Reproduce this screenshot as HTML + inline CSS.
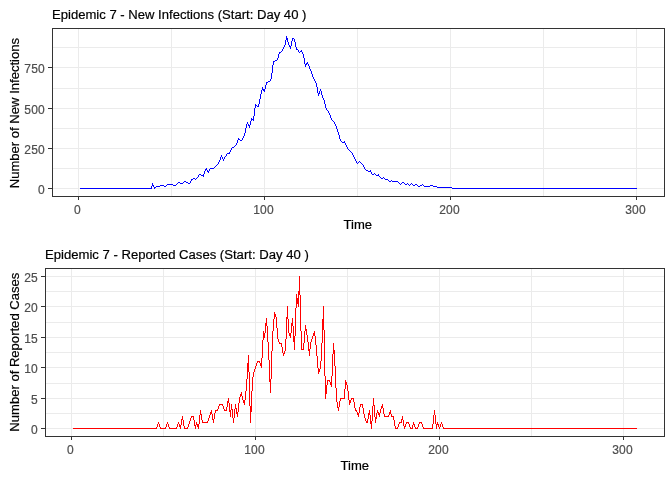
<!DOCTYPE html>
<html><head><meta charset="utf-8"><title>Epidemic 7</title>
<style>
html,body{margin:0;padding:0;background:#fff;}
svg{display:block;}
text{font-family:"Liberation Sans",Arial,sans-serif;}
.t{font-size:13.07px;fill:#000;stroke:#000;stroke-width:0.2px;}
.k{font-size:12px;letter-spacing:0.3px;fill:#4d4d4d;stroke:#4d4d4d;stroke-width:0.2px;}
.g line{stroke:#ebebeb;stroke-width:1;}
.b{fill:none;stroke:#333;stroke-width:1;}
.tk line{stroke:#333;stroke-width:1;}
</style></head><body>
<svg width="672" height="480" viewBox="0 0 672 480">
<rect width="672" height="480" fill="#fff"/>

<g class="g" shape-rendering="crispEdges">
<line x1="52.5" x2="664.5" y1="168.5" y2="168.5"/>
<line x1="52.5" x2="664.5" y1="128.5" y2="128.5"/>
<line x1="52.5" x2="664.5" y1="88.5" y2="88.5"/>
<line x1="52.5" x2="664.5" y1="47.5" y2="47.5"/>
<line x1="52.5" x2="664.5" y1="188.5" y2="188.5"/>
<line x1="52.5" x2="664.5" y1="148.5" y2="148.5"/>
<line x1="52.5" x2="664.5" y1="108.5" y2="108.5"/>
<line x1="52.5" x2="664.5" y1="67.5" y2="67.5"/>
<line x1="171.5" x2="171.5" y1="28.5" y2="196.5"/>
<line x1="357.5" x2="357.5" y1="28.5" y2="196.5"/>
<line x1="543.5" x2="543.5" y1="28.5" y2="196.5"/>
<line x1="78.5" x2="78.5" y1="28.5" y2="196.5"/>
<line x1="264.5" x2="264.5" y1="28.5" y2="196.5"/>
<line x1="450.5" x2="450.5" y1="28.5" y2="196.5"/>
<line x1="636.5" x2="636.5" y1="28.5" y2="196.5"/>
</g>
<path fill="#0000ff" shape-rendering="crispEdges" d="M80 188h72v1h-72zM452 188h185v1h-185zM437 187h15v1h-15zM156 186h4v1h-4zM424 186h6v1h-6zM433 186h4v1h-4zM201 175h3v1h-3zM376 175h3v1h-3zM392 181h6v1h-6zM180 183h3v1h-3zM167 184h6v1h-6zM385 179h3v1h-3zM160 185h4v1h-4zM173 185h3v1h-3zM430 185h3v1h-3zM368 171h3v1h-3zM262 89h3v1h-3zM227 153h3v1h-3zM210 168h4v1h-4zM251 119h3v1h-3zM342 142h3v1h-3zM151 186h1v2h-1zM152 183h1v3h-1zM153 185h1v2h-1zM154 187h1v2h-1zM155 187h1v1h-1zM164 186h1v1h-1zM165 186h1v1h-1zM166 185h1v1h-1zM176 184h1v1h-1zM177 183h1v1h-1zM178 182h1v1h-1zM179 182h1v1h-1zM183 182h1v1h-1zM184 181h1v1h-1zM185 181h1v1h-1zM186 182h1v1h-1zM187 182h1v1h-1zM188 183h1v1h-1zM189 183h1v1h-1zM190 181h1v2h-1zM191 179h1v2h-1zM192 179h1v1h-1zM193 178h1v1h-1zM194 178h1v1h-1zM195 179h1v1h-1zM196 178h1v1h-1zM197 177h1v1h-1zM198 175h1v2h-1zM199 174h1v1h-1zM200 174h1v1h-1zM203 174h1v1h-1zM203 176h1v1h-1zM204 171h1v3h-1zM205 169h1v2h-1zM206 168h1v2h-1zM207 170h1v2h-1zM208 171h1v2h-1zM209 169h1v2h-1zM214 167h1v1h-1zM215 166h1v1h-1zM216 165h1v1h-1zM217 164h1v1h-1zM218 162h1v2h-1zM219 160h1v2h-1zM220 157h1v3h-1zM221 155h1v2h-1zM222 157h1v2h-1zM223 159h1v2h-1zM224 157h1v2h-1zM225 156h1v1h-1zM226 154h1v2h-1zM229 152h1v1h-1zM230 150h1v2h-1zM231 148h1v2h-1zM232 147h1v1h-1zM233 147h1v1h-1zM234 146h1v1h-1zM235 145h1v1h-1zM236 143h1v2h-1zM237 140h1v3h-1zM238 138h1v2h-1zM239 139h1v1h-1zM240 140h1v1h-1zM241 140h1v1h-1zM242 138h1v2h-1zM243 136h1v2h-1zM244 133h1v3h-1zM245 128h1v5h-1zM246 124h1v4h-1zM247 122h1v2h-1zM248 124h1v2h-1zM249 125h1v3h-1zM250 121h1v4h-1zM251 118h1v1h-1zM251 120h1v1h-1zM253 116h1v3h-1zM253 120h1v1h-1zM254 108h1v8h-1zM255 104h1v4h-1zM256 105h1v1h-1zM257 106h1v1h-1zM258 104h1v3h-1zM259 99h1v5h-1zM260 94h1v5h-1zM261 90h1v4h-1zM262 87h1v2h-1zM263 90h1v1h-1zM264 90h1v2h-1zM265 85h1v4h-1zM266 82h1v3h-1zM267 82h1v1h-1zM268 81h1v1h-1zM269 81h1v1h-1zM270 79h1v2h-1zM271 73h1v6h-1zM272 65h1v8h-1zM273 61h1v4h-1zM274 61h1v1h-1zM275 60h1v1h-1zM276 60h1v1h-1zM277 58h1v2h-1zM278 54h1v4h-1zM279 52h1v2h-1zM280 52h1v1h-1zM281 51h1v1h-1zM282 49h1v2h-1zM283 47h1v2h-1zM284 45h1v2h-1zM285 40h1v5h-1zM286 36h1v4h-1zM287 38h1v4h-1zM288 42h1v3h-1zM289 45h1v2h-1zM290 46h1v3h-1zM291 41h1v5h-1zM292 38h1v3h-1zM293 38h1v1h-1zM294 39h1v3h-1zM295 42h1v5h-1zM296 47h1v3h-1zM297 49h1v1h-1zM298 50h1v2h-1zM299 52h1v1h-1zM300 51h1v1h-1zM301 50h1v2h-1zM302 52h1v2h-1zM303 54h1v4h-1zM304 58h1v6h-1zM305 64h1v3h-1zM306 63h1v2h-1zM307 62h1v2h-1zM308 64h1v2h-1zM309 66h1v3h-1zM310 69h1v2h-1zM311 71h1v3h-1zM312 74h1v3h-1zM313 77h1v2h-1zM314 79h1v2h-1zM315 81h1v2h-1zM316 83h1v4h-1zM317 87h1v6h-1zM318 93h1v3h-1zM319 91h1v3h-1zM320 89h1v2h-1zM321 91h1v4h-1zM322 95h1v3h-1zM323 98h1v2h-1zM324 100h1v4h-1zM325 104h1v4h-1zM326 108h1v2h-1zM327 110h1v1h-1zM328 111h1v2h-1zM329 113h1v2h-1zM330 115h1v3h-1zM331 118h1v2h-1zM332 120h1v1h-1zM333 121h1v1h-1zM334 122h1v2h-1zM335 124h1v2h-1zM336 126h1v3h-1zM337 129h1v3h-1zM338 132h1v3h-1zM339 135h1v4h-1zM340 139h1v2h-1zM341 141h1v1h-1zM344 141h1v1h-1zM345 143h1v2h-1zM346 145h1v2h-1zM347 147h1v2h-1zM348 149h1v1h-1zM349 150h1v1h-1zM350 151h1v1h-1zM351 152h1v1h-1zM352 153h1v2h-1zM353 155h1v2h-1zM354 157h1v2h-1zM355 159h1v2h-1zM356 161h1v2h-1zM357 163h1v1h-1zM358 162h1v1h-1zM359 161h1v1h-1zM360 162h1v1h-1zM361 163h1v1h-1zM362 164h1v1h-1zM363 165h1v2h-1zM364 167h1v2h-1zM365 169h1v1h-1zM366 170h1v1h-1zM367 170h1v1h-1zM370 170h1v1h-1zM371 172h1v2h-1zM372 174h1v1h-1zM373 174h1v1h-1zM374 173h1v1h-1zM375 174h1v1h-1zM378 174h1v1h-1zM379 176h1v1h-1zM380 177h1v1h-1zM381 178h1v1h-1zM382 178h1v1h-1zM383 177h1v1h-1zM384 178h1v1h-1zM388 180h1v1h-1zM389 181h1v1h-1zM390 181h1v1h-1zM391 180h1v1h-1zM398 182h1v1h-1zM399 183h1v1h-1zM400 184h1v1h-1zM401 183h1v1h-1zM402 182h1v1h-1zM403 182h1v1h-1zM404 183h1v1h-1zM405 184h1v1h-1zM406 184h1v1h-1zM407 183h1v1h-1zM408 184h1v1h-1zM409 185h1v1h-1zM410 184h1v1h-1zM411 183h1v1h-1zM412 184h1v1h-1zM413 185h1v1h-1zM414 185h1v1h-1zM415 184h1v1h-1zM416 184h1v1h-1zM417 185h1v1h-1zM418 186h1v1h-1zM419 186h1v1h-1zM420 185h1v1h-1zM421 185h1v1h-1zM422 184h1v1h-1zM423 185h1v1h-1z"/>
<rect class="b" shape-rendering="crispEdges" x="52.5" y="28.5" width="612.0" height="168.0"/>
<g class="tk" shape-rendering="crispEdges">
<line x1="48.0" x2="52.0" y1="188.5" y2="188.5"/>
<line x1="48.0" x2="52.0" y1="148.5" y2="148.5"/>
<line x1="48.0" x2="52.0" y1="108.5" y2="108.5"/>
<line x1="48.0" x2="52.0" y1="67.5" y2="67.5"/>
<line x1="78.5" x2="78.5" y1="197.0" y2="200.0"/>
<line x1="264.5" x2="264.5" y1="197.0" y2="200.0"/>
<line x1="450.5" x2="450.5" y1="197.0" y2="200.0"/>
<line x1="636.5" x2="636.5" y1="197.0" y2="200.0"/>
</g>
<text class="k" text-anchor="end" x="45.1" y="193.7">0</text>
<text class="k" text-anchor="end" x="45.1" y="153.7">250</text>
<text class="k" text-anchor="end" x="45.1" y="113.7">500</text>
<text class="k" text-anchor="end" x="45.1" y="72.7">750</text>
<text class="k" text-anchor="middle" x="77.6" y="213.8">0</text>
<text class="k" text-anchor="middle" x="263.6" y="213.8">100</text>
<text class="k" text-anchor="middle" x="449.6" y="213.8">200</text>
<text class="k" text-anchor="middle" x="635.6" y="213.8">300</text>
<text class="t" style="font-size:13.08px" x="52" y="18.7">Epidemic 7 - New Infections (Start: Day 40 )</text>
<text class="t" text-anchor="middle" x="357.8" y="229.3">Time</text>
<text class="t" text-anchor="middle" transform="translate(19.1,113.1) rotate(-90)">Number of New Infections</text>
<g class="g" shape-rendering="crispEdges">
<line x1="45.5" x2="664.5" y1="413.5" y2="413.5"/>
<line x1="45.5" x2="664.5" y1="383.5" y2="383.5"/>
<line x1="45.5" x2="664.5" y1="352.5" y2="352.5"/>
<line x1="45.5" x2="664.5" y1="322.5" y2="322.5"/>
<line x1="45.5" x2="664.5" y1="291.5" y2="291.5"/>
<line x1="45.5" x2="664.5" y1="428.5" y2="428.5"/>
<line x1="45.5" x2="664.5" y1="398.5" y2="398.5"/>
<line x1="45.5" x2="664.5" y1="367.5" y2="367.5"/>
<line x1="45.5" x2="664.5" y1="337.5" y2="337.5"/>
<line x1="45.5" x2="664.5" y1="306.5" y2="306.5"/>
<line x1="45.5" x2="664.5" y1="276.5" y2="276.5"/>
<line x1="163.5" x2="163.5" y1="268.5" y2="436.5"/>
<line x1="347.5" x2="347.5" y1="268.5" y2="436.5"/>
<line x1="531.5" x2="531.5" y1="268.5" y2="436.5"/>
<line x1="71.5" x2="71.5" y1="268.5" y2="436.5"/>
<line x1="255.5" x2="255.5" y1="268.5" y2="436.5"/>
<line x1="439.5" x2="439.5" y1="268.5" y2="436.5"/>
<line x1="623.5" x2="623.5" y1="268.5" y2="436.5"/>
</g>
<path fill="#ff0000" shape-rendering="crispEdges" d="M73 428h84v1h-84zM160 428h6v1h-6zM169 428h8v1h-8zM184 428h4v1h-4zM395 428h3v1h-3zM410 428h3v1h-3zM415 428h3v1h-3zM423 428h10v1h-10zM443 428h194v1h-194zM340 398h5v1h-5zM351 398h3v1h-3zM279 343h3v1h-3zM327 380h3v1h-3zM191 416h3v1h-3zM384 416h5v1h-5zM391 416h3v1h-3zM296 303h3v1h-3zM257 361h3v1h-3zM196 424h3v1h-3zM436 424h3v1h-3zM215 410h3v1h-3zM224 410h3v1h-3zM301 349h3v1h-3zM296 301h3v1h-3zM219 404h4v1h-4zM360 404h3v1h-3zM202 422h6v1h-6zM399 422h3v1h-3zM406 422h3v1h-3zM419 422h3v1h-3zM296 302h3v1h-3zM296 298h3v1h-3zM296 299h3v1h-3zM296 300h3v1h-3zM156 427h1v1h-1zM157 424h1v3h-1zM158 422h1v2h-1zM159 424h1v3h-1zM160 427h1v1h-1zM165 427h1v1h-1zM166 424h1v3h-1zM167 422h1v2h-1zM168 424h1v3h-1zM169 427h1v1h-1zM176 427h1v1h-1zM177 424h1v3h-1zM178 422h1v2h-1zM179 424h1v3h-1zM180 425h1v4h-1zM181 419h1v6h-1zM182 416h1v4h-1zM183 420h1v6h-1zM184 426h1v2h-1zM187 427h1v1h-1zM188 424h1v3h-1zM189 421h1v3h-1zM190 418h1v3h-1zM191 417h1v1h-1zM193 417h1v3h-1zM194 420h1v6h-1zM195 425h1v4h-1zM196 422h1v2h-1zM197 425h1v2h-1zM198 425h1v4h-1zM199 415h1v9h-1zM200 410h1v5h-1zM201 414h1v6h-1zM202 420h1v2h-1zM207 421h1v1h-1zM208 418h1v3h-1zM209 415h1v3h-1zM210 412h1v3h-1zM211 410h1v4h-1zM212 414h1v6h-1zM213 419h1v4h-1zM214 413h1v6h-1zM215 411h1v2h-1zM217 409h1v1h-1zM218 406h1v3h-1zM219 405h1v1h-1zM222 405h1v1h-1zM223 406h1v3h-1zM224 409h1v1h-1zM226 407h1v3h-1zM227 401h1v6h-1zM228 398h1v5h-1zM229 403h1v9h-1zM230 410h1v7h-1zM231 404h1v6h-1zM232 409h1v9h-1zM233 418h1v5h-1zM234 409h1v9h-1zM235 404h1v5h-1zM236 408h1v6h-1zM237 412h1v5h-1zM238 403h1v9h-1zM239 397h1v6h-1zM240 394h1v3h-1zM241 392h1v4h-1zM242 396h1v4h-1zM243 400h1v3h-1zM244 400h1v5h-1zM245 391h1v9h-1zM246 379h1v12h-1zM247 363h1v16h-1zM248 355h1v17h-1zM249 372h1v34h-1zM250 406h1v17h-1zM251 391h1v21h-1zM252 377h1v14h-1zM253 372h1v5h-1zM254 369h1v3h-1zM255 366h1v3h-1zM256 363h1v3h-1zM257 362h1v1h-1zM259 362h1v1h-1zM260 363h1v3h-1zM261 358h1v10h-1zM262 340h1v18h-1zM263 331h1v9h-1zM264 333h1v5h-1zM265 323h1v10h-1zM266 318h1v8h-1zM267 326h1v16h-1zM268 342h1v18h-1zM269 360h1v22h-1zM270 379h1v14h-1zM271 351h1v28h-1zM272 331h1v20h-1zM273 319h1v12h-1zM274 312h1v7h-1zM275 314h1v3h-1zM276 317h1v11h-1zM277 328h1v11h-1zM278 339h1v3h-1zM279 342h1v1h-1zM281 344h1v3h-1zM282 347h1v6h-1zM283 353h1v3h-1zM284 351h1v3h-1zM285 339h1v12h-1zM286 317h1v22h-1zM287 306h1v13h-1zM288 319h1v14h-1zM289 333h1v3h-1zM290 333h1v5h-1zM291 323h1v10h-1zM292 318h1v8h-1zM293 326h1v16h-1zM294 336h1v14h-1zM295 308h1v28h-1zM296 294h1v4h-1zM296 304h1v4h-1zM298 291h1v7h-1zM298 304h1v3h-1zM299 276h1v19h-1zM300 295h1v36h-1zM301 331h1v18h-1zM303 343h1v6h-1zM304 331h1v12h-1zM305 325h1v6h-1zM306 329h1v6h-1zM307 335h1v7h-1zM308 342h1v9h-1zM309 349h1v7h-1zM310 342h1v7h-1zM311 339h1v3h-1zM312 336h1v3h-1zM313 333h1v3h-1zM314 331h1v5h-1zM315 336h1v9h-1zM316 345h1v11h-1zM317 356h1v12h-1zM318 368h1v6h-1zM319 369h1v3h-1zM320 361h1v8h-1zM321 343h1v18h-1zM322 319h1v24h-1zM323 306h1v24h-1zM324 330h1v46h-1zM325 376h1v23h-1zM326 385h1v9h-1zM327 381h1v4h-1zM329 381h1v1h-1zM330 382h1v3h-1zM331 376h1v11h-1zM332 354h1v22h-1zM333 343h1v11h-1zM334 350h1v16h-1zM335 366h1v22h-1zM336 388h1v14h-1zM337 402h1v6h-1zM338 407h1v4h-1zM339 401h1v6h-1zM340 399h1v2h-1zM344 389h1v9h-1zM345 380h1v9h-1zM346 382h1v3h-1zM347 385h1v6h-1zM348 391h1v9h-1zM349 400h1v5h-1zM350 400h1v3h-1zM351 399h1v1h-1zM353 399h1v3h-1zM354 402h1v6h-1zM355 408h1v3h-1zM356 410h1v2h-1zM357 412h1v3h-1zM358 413h1v4h-1zM359 407h1v6h-1zM360 405h1v2h-1zM362 405h1v3h-1zM363 408h1v6h-1zM364 414h1v4h-1zM365 418h1v3h-1zM366 421h1v2h-1zM367 419h1v4h-1zM368 413h1v6h-1zM369 410h1v5h-1zM370 415h1v9h-1zM371 421h1v8h-1zM372 406h1v15h-1zM373 398h1v8h-1zM374 405h1v12h-1zM375 417h1v6h-1zM376 413h1v6h-1zM377 410h1v3h-1zM378 412h1v3h-1zM379 413h1v4h-1zM380 409h1v4h-1zM381 406h1v3h-1zM382 404h1v4h-1zM383 408h1v6h-1zM384 414h1v2h-1zM388 415h1v1h-1zM389 412h1v3h-1zM390 410h1v4h-1zM391 414h1v2h-1zM393 417h1v3h-1zM394 420h1v6h-1zM395 426h1v2h-1zM397 427h1v1h-1zM398 424h1v3h-1zM399 423h1v1h-1zM401 419h1v3h-1zM402 416h1v4h-1zM403 420h1v6h-1zM404 426h1v3h-1zM405 424h1v3h-1zM406 423h1v1h-1zM408 423h1v1h-1zM409 424h1v3h-1zM410 427h1v1h-1zM412 425h1v3h-1zM413 422h1v3h-1zM414 424h1v3h-1zM415 427h1v1h-1zM417 427h1v1h-1zM418 424h1v3h-1zM419 423h1v1h-1zM421 423h1v1h-1zM422 424h1v3h-1zM423 427h1v1h-1zM432 424h1v4h-1zM433 415h1v9h-1zM434 410h1v5h-1zM435 415h1v9h-1zM436 425h1v4h-1zM437 422h1v2h-1zM438 425h1v2h-1zM439 427h1v2h-1zM440 424h1v3h-1zM441 422h1v2h-1zM442 424h1v3h-1zM443 427h1v1h-1z"/>
<rect class="b" shape-rendering="crispEdges" x="45.5" y="268.5" width="619.0" height="168.0"/>
<g class="tk" shape-rendering="crispEdges">
<line x1="41.0" x2="45.0" y1="428.5" y2="428.5"/>
<line x1="41.0" x2="45.0" y1="398.5" y2="398.5"/>
<line x1="41.0" x2="45.0" y1="367.5" y2="367.5"/>
<line x1="41.0" x2="45.0" y1="337.5" y2="337.5"/>
<line x1="41.0" x2="45.0" y1="306.5" y2="306.5"/>
<line x1="41.0" x2="45.0" y1="276.5" y2="276.5"/>
<line x1="71.5" x2="71.5" y1="437.0" y2="440.0"/>
<line x1="255.5" x2="255.5" y1="437.0" y2="440.0"/>
<line x1="439.5" x2="439.5" y1="437.0" y2="440.0"/>
<line x1="623.5" x2="623.5" y1="437.0" y2="440.0"/>
</g>
<text class="k" text-anchor="end" x="38.1" y="433.7">0</text>
<text class="k" text-anchor="end" x="38.1" y="403.7">5</text>
<text class="k" text-anchor="end" x="38.1" y="372.7">10</text>
<text class="k" text-anchor="end" x="38.1" y="342.7">15</text>
<text class="k" text-anchor="end" x="38.1" y="311.7">20</text>
<text class="k" text-anchor="end" x="38.1" y="281.7">25</text>
<text class="k" text-anchor="middle" x="70.6" y="453.8">0</text>
<text class="k" text-anchor="middle" x="254.6" y="453.8">100</text>
<text class="k" text-anchor="middle" x="438.6" y="453.8">200</text>
<text class="k" text-anchor="middle" x="622.6" y="453.8">300</text>
<text class="t" style="font-size:13.11px" x="45" y="258.7">Epidemic 7 - Reported Cases (Start: Day 40 )</text>
<text class="t" text-anchor="middle" x="354.8" y="469.8">Time</text>
<text class="t" text-anchor="middle" transform="translate(19.1,352.2) rotate(-90)">Number of Reported Cases</text>
</svg></body></html>
